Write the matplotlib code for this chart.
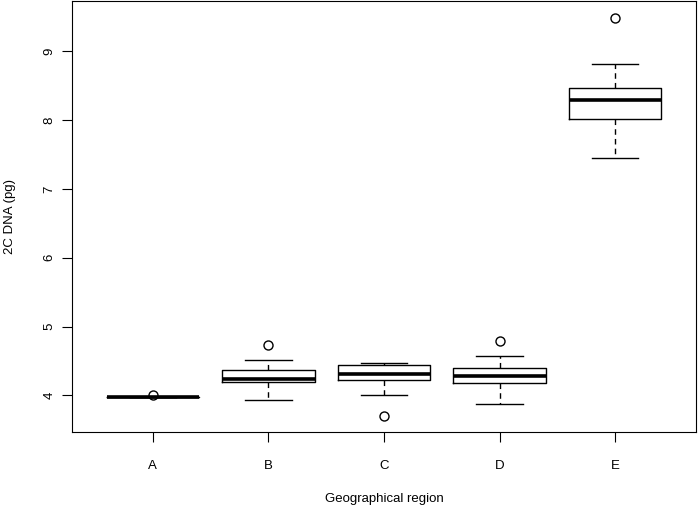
import matplotlib
matplotlib.use("Agg")
import matplotlib.pyplot as plt

plt.rcParams['font.family'] = ['Liberation Sans', 'DejaVu Sans']

# region labels and box statistics
regions = ['A', 'B', 'C', 'D', 'E']
whislo = [3.97, 3.93, 4.00, 3.87, 7.45]
q1 = [3.97, 4.19, 4.23, 4.18, 8.01]
med = [3.97, 4.24, 4.31, 4.28, 8.29]
q3 = [3.97, 4.37, 4.44, 4.40, 8.47]
whishi = [3.97, 4.51, 4.465, 4.57, 8.81]
fliers = [[4.00], [4.737], [3.695], [4.785], [9.49]]

stats = []
for i in range(len(regions)):
    stats.append({'label': regions[i], 'whislo': whislo[i], 'q1': q1[i], 'med': med[i],
                  'q3': q3[i], 'whishi': whishi[i], 'fliers': fliers[i]})

fig = plt.figure(figsize=(7.0, 5.09), dpi=100)
ax = fig.add_axes([72/700, 77/509, 624/700, 431/509])

ax.bxp(stats, positions=range(1, 6), widths=0.8, showfliers=True,
       boxprops=dict(color='black', linewidth=1.0),
       whiskerprops=dict(color='black', linewidth=1.0, linestyle=(0, (4, 3))),
       capprops=dict(color='black', linewidth=1.0),
       medianprops=dict(color='black', linewidth=2.6, solid_capstyle='butt'),
       flierprops=dict(marker='o', markerfacecolor='none', markeredgecolor='black',
                       markersize=6.5, markeredgewidth=1.0),
       capwidths=0.4)

ax.set_xlim(0.3, 5.7)
ax.set_ylim(3.468, 9.732)
ax.set_yticks([4, 5, 6, 7, 8, 9])
ax.set_yticklabels(['4', '5', '6', '7', '8', '9'], rotation=90, va='center')
ax.set_xticks(range(1, 6))
ax.set_xticklabels(regions)
ax.tick_params(direction='out', length=7, width=0.8, labelsize=9.5)
ax.tick_params(axis='x', pad=13)
ax.tick_params(axis='y', pad=5)
for s in ax.spines.values():
    s.set_linewidth(0.8)

ax.set_xlabel('Geographical region', fontsize=9.5, labelpad=15)
ax.set_ylabel('2C DNA (pg)', fontsize=9.5, labelpad=20)

fig.savefig('out.png', dpi=100)
